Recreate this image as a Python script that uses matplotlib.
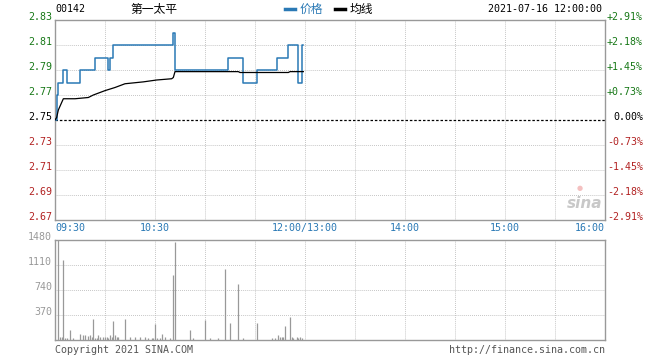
import matplotlib
matplotlib.use("Agg")
import matplotlib.pyplot as plt
from matplotlib.lines import Line2D

code = "00142"
name = "第一太平"
stamp = "2021-07-16 12:00:00"
prev_close = 2.75

# minutes since 09:30, lunch break collapsed (12:00 and 13:00 share one slot)
price_minutes = [0, 1, 2, 5, 7, 15, 24, 32, 33, 35, 71, 72, 104, 113, 121, 133, 140, 146, 147, 148, 149]
price_values = [2.75, 2.77, 2.78, 2.79, 2.78, 2.79, 2.80, 2.79, 2.80, 2.81, 2.82, 2.79,
                2.80, 2.78, 2.79, 2.80, 2.81, 2.78, 2.78, 2.81, 2.81]

avg_minutes = [0, 1, 2, 3, 5, 12, 20, 23, 30, 36, 42, 53, 61, 70, 71, 72, 110, 111, 140, 141, 149]
avg_values = [2.750, 2.752, 2.758, 2.761, 2.767, 2.767, 2.768, 2.770, 2.7735, 2.776, 2.779,
              2.7805, 2.782, 2.783, 2.784, 2.7887, 2.7887, 2.788, 2.788, 2.7887, 2.7887]

vol_minutes = [2, 3, 4, 5, 6, 7, 9, 11, 15, 17, 18, 20, 21, 22, 23, 24, 25, 26, 27, 29, 30,
               31, 32, 33, 34, 35, 36, 37, 38, 42, 45, 48, 51, 54, 56, 58, 59, 60, 61, 63,
               64, 66, 69, 71, 72, 81, 83, 90, 93, 98, 102, 105, 110, 113, 121, 130, 132,
               134, 135, 136, 137, 138, 141, 142, 143, 145, 146, 147, 148]
vol_values = [1480, 50, 50, 1184, 30, 30, 148, 30, 84, 74, 74, 60, 74, 44, 311, 35, 35, 74, 44,
              44, 44, 44, 35, 74, 44, 281, 74, 44, 44, 311, 44, 44, 44, 44, 30, 30, 30, 232,
              30, 30, 89, 44, 30, 962, 1450, 148, 30, 291, 30, 30, 1051, 252, 829, 30, 252,
              30, 30, 74, 44, 44, 44, 207, 340, 44, 30, 44, 30, 44, 30]

price_ticks = [2.67, 2.69, 2.71, 2.73, 2.75, 2.77, 2.79, 2.81, 2.83]
vol_ticks = [370, 740, 1110, 1480]
time_ticks = [0, 60, 150, 210, 270, 330]
time_labels = ["09:30", "10:30", "12:00/13:00", "14:00", "15:00", "16:00"]

BLUE = "#2a79b5"
GREEN = "#177817"
RED = "#b22222"
GRAY = "#999999"
MONO = "DejaVu Sans Mono"
CJK = ["Noto Sans CJK SC", "DejaVu Sans"]
FS = 7.2

W, H = 660, 360
fig = plt.figure(figsize=(W / 100, H / 100), dpi=100)


def box(l, t, r, b):
    return [l / W, 1 - b / H, (r - l) / W, (b - t) / H]


def fx(x):
    return x / W


def fy(y):
    return 1 - y / H


ax = fig.add_axes(box(55, 20, 605, 220))
axv = fig.add_axes(box(55, 240, 605, 340))

dots = dict(color="#b8b8b8", linewidth=0.7, linestyle=(0, (0.8, 1.3)))
for a in (ax, axv):
    a.set_xlim(0, 330)
    a.set_xticks([])
    a.set_yticks([])
    for s in a.spines.values():
        s.set_color(GRAY)
        s.set_linewidth(1.0)
    for t in range(30, 330, 30):
        a.axvline(t, zorder=0, **dots)

# price panel
ax.set_ylim(price_ticks[0], price_ticks[-1])
for p in price_ticks[1:-1]:
    if p == prev_close:
        ax.axhline(p, color="black", linewidth=0.9, linestyle=(0, (2, 1.5)), zorder=1)
    else:
        ax.axhline(p, zorder=0, **dots)

ax.plot(price_minutes, price_values, color=BLUE, linewidth=1.1, drawstyle="steps-post", zorder=3)
ax.plot(avg_minutes, avg_values, color="black", linewidth=0.9, zorder=4)

for p in price_ticks:
    c = GREEN if p > prev_close else (RED if p < prev_close else "black")
    ax.annotate(f"{p:.2f}", xy=(0, p), xycoords=("axes fraction", "data"),
                xytext=(-3, 3), textcoords="offset pixels", ha="right", va="center",
                color=c, fontsize=FS, family=MONO)
    pct = (p - prev_close) / prev_close * 100
    lab = f"{pct:+.2f}%" if abs(pct) > 1e-9 else "0.00%"
    ax.annotate(lab, xy=(1, p), xycoords=("axes fraction", "data"),
                xytext=(38, 3), textcoords="offset pixels", ha="right", va="center",
                color=c, fontsize=FS, family=MONO)

for i, (t, lab) in enumerate(zip(time_ticks, time_labels)):
    ha = "left" if i == 0 else ("right" if i == len(time_ticks) - 1 else "center")
    ax.annotate(lab, xy=(t, 0), xycoords=("data", "axes fraction"),
                xytext=(0, -8), textcoords="offset pixels", ha=ha, va="center",
                color=BLUE, fontsize=FS, family=MONO)

# volume panel
axv.set_ylim(0, vol_ticks[-1])
for v in vol_ticks[:-1]:
    axv.axhline(v, zorder=0, **dots)
axv.vlines(vol_minutes, 0, vol_values, color=GRAY, linewidth=0.9, zorder=3)
for v in vol_ticks:
    axv.annotate(str(v), xy=(0, v), xycoords=("axes fraction", "data"),
                 xytext=(-3, 3), textcoords="offset pixels", ha="right", va="center",
                 color=GRAY, fontsize=FS, family=MONO)

# header
fig.text(fx(55), fy(9), code, ha="left", va="center", fontsize=FS, family=MONO)
fig.text(fx(130), fy(9), name, ha="left", va="center", fontsize=8.5, family=CJK)
fig.add_artist(Line2D([fx(285), fx(295)], [fy(9), fy(9)], color=BLUE, linewidth=2.5))
fig.text(fx(300), fy(9), "价格", ha="left", va="center", fontsize=8.5, family=CJK, color=BLUE)
fig.add_artist(Line2D([fx(335), fx(345)], [fy(9), fy(9)], color="black", linewidth=2.5))
fig.text(fx(350), fy(9), "均线", ha="left", va="center", fontsize=8.5, family=CJK)
fig.text(fx(602), fy(9), stamp, ha="right", va="center", fontsize=FS, family=MONO)

# footer and watermark
fig.text(fx(55), fy(350), "Copyright 2021 SINA.COM", ha="left", va="center",
         fontsize=FS, family=MONO, color="#555555")
fig.text(fx(605), fy(350), "http://finance.sina.com.cn", ha="right", va="center",
         fontsize=FS, family=MONO, color="#555555")
fig.text(fx(585), fy(204), "sina", ha="center", va="center", fontsize=11,
         fontweight="bold", style="italic", color="#c8c8c8")
fig.text(fx(580), fy(188), "●", ha="center", va="center", fontsize=5, color="#f4c0c0")

fig.savefig("out.png", dpi=100)
